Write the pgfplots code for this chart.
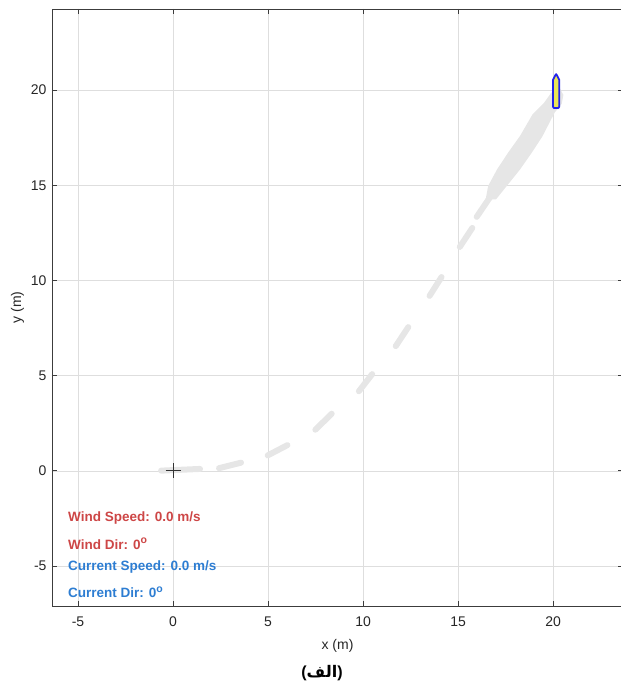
\documentclass[border=0pt]{standalone}
\usepackage{pgfplots}
\pgfplotsset{compat=1.18}
\usepackage{fontspec}
\setmainfont{Liberation Sans}
\newfontfamily\arabicfont[Script=Arabic]{DejaVu Sans}
\TeXXeTstate=1
\definecolor{trail}{RGB}{230,230,230}
\definecolor{gridc}{RGB}{222,222,222}
\definecolor{axisc}{RGB}{60,60,60}
\definecolor{windred}{RGB}{205,70,70}
\definecolor{curblue}{RGB}{45,125,210}
\definecolor{boatyel}{RGB}{235,230,85}
\definecolor{boatblue}{RGB}{35,35,235}
\newcommand{\dego}{\raisebox{0.8ex}{\fontsize{10.5}{10}\selectfont o}}
\begin{document}
\begin{tikzpicture}[x=1pt,y=1pt]
\useasboundingbox (-52,-78) rectangle (568,606);
\begin{axis}[scale only axis,
  width=571pt, height=597pt,
  xmin=-6.37, xmax=23.68, ymin=-7.1, ymax=24.26,
  xtick={-5,0,...,20}, ytick={-5,0,...,20},
  grid=major, grid style={gridc, line width=0.6pt},
  axis line style={axisc, line width=0.7pt},
  tick style={axisc, line width=0.7pt},
  tick align=inside, major tick length=5pt,
  tick label style={font=\fontsize{14}{16}\selectfont, text=black!85},
  xticklabel style={yshift=-7pt},
  yticklabel style={xshift=-2pt},
  /pgf/number format/assume math mode=true,
  xlabel={x (m)}, ylabel={y (m)},
  label style={font=\fontsize{14}{16}\selectfont, text=black!85},
  xlabel style={yshift=-6pt},
  unbounded coords=jump]
\addplot[trail, line width=6pt, line cap=round] table[row sep=\\] {
x y \\
-0.63 0.01 \\ 1.42 0.10 \\ nan nan \\
2.42 0.14 \\ 3.58 0.43 \\ nan nan \\
4.98 0.81 \\ 6.02 1.35 \\ nan nan \\
7.49 2.16 \\ 8.35 3.00 \\ nan nan \\
9.78 4.18 \\ 10.48 5.08 \\ nan nan \\
11.72 6.55 \\ 12.38 7.55 \\ nan nan \\
13.50 9.19 \\ 14.13 10.18 \\ nan nan \\
15.09 11.76 \\ 15.75 12.76 \\ nan nan \\
15.98 13.34 \\ 16.70 14.40 \\
};
\addplot[fill=trail, draw=trail, line width=1.5pt, line join=round] coordinates {
(16.50,14.30) (16.62,14.95) (17.10,15.84) (17.70,16.74) (18.30,17.58)
(18.95,18.70) (19.55,19.30) (19.90,19.79) (20.26,20.20) (20.50,19.74)
(20.42,19.30) (20.05,18.84) (19.40,17.58) (18.85,16.74) (18.22,15.84)
(17.50,14.95) (16.98,14.30)} -- cycle;
\addplot[fill=boatyel, draw=boatblue, line width=1.8pt, line join=round] coordinates {
(20.0,19.12) (20.0,20.55) (20.1,20.75) (20.16,20.84) (20.22,20.75)
(20.32,20.55) (20.32,19.12) (20.28,19.06) (20.04,19.06)} -- cycle;
\addplot[only marks, mark=+, mark size=7.5pt, black!80, mark options={line width=0.8pt}] coordinates {(0,0)};
\node[anchor=west, inner sep=0pt, font=\bfseries\fontsize{13.5}{15}\selectfont, text=windred] at (axis cs:-5.53,-2.47) {Wind Speed: 0.0 m/s};
\node[anchor=west, inner sep=0pt, font=\bfseries\fontsize{13.5}{15}\selectfont, text=windred] at (axis cs:-5.53,-3.84) {Wind Dir: 0\dego};
\node[anchor=west, inner sep=0pt, font=\bfseries\fontsize{13.5}{15}\selectfont, text=curblue] at (axis cs:-5.53,-5.05) {Current Speed: 0.0 m/s};
\node[anchor=west, inner sep=0pt, font=\bfseries\fontsize{13.5}{15}\selectfont, text=curblue] at (axis cs:-5.53,-6.37) {Current Dir: 0\dego};
\end{axis}
\node[font=\bfseries\fontsize{16}{19}\selectfont] at (270,-67) {(\mbox{\arabicfont\beginR الف\endR})};
\end{tikzpicture}
\end{document}
